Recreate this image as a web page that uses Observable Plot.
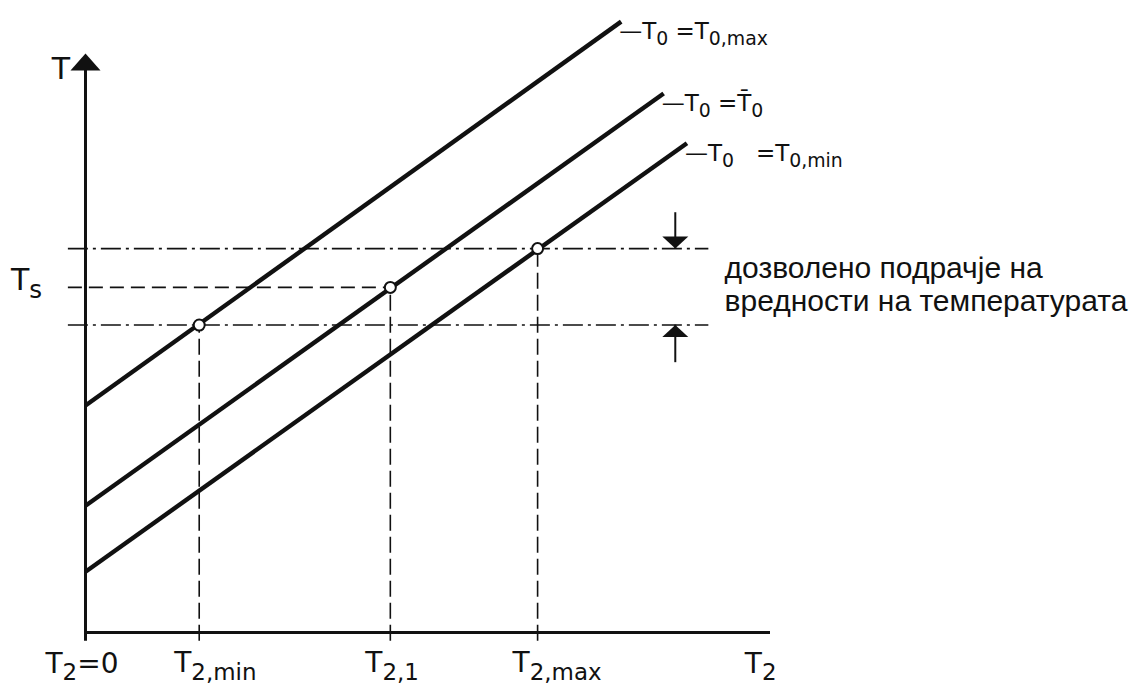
<!DOCTYPE html>
<html><head><meta charset="utf-8">
<script src="https://cdn.jsdelivr.net/npm/d3@7"></script>
<script src="https://cdn.jsdelivr.net/npm/@observablehq/plot@0.6"></script>
<style>html,body{margin:0;padding:0;background:#fff;overflow:hidden} svg{display:block}</style>
</head><body><div id="chart"></div>
<script>
// ---- data (schematic units: T2 on x 0..100, T on y) ----
const seriesName  = ["T0,max", "T0,mean", "T0,min"];
const seriesLabel = ["—T_{0} =T_{0,max}", "—T_{0} =T\u0304_{0}", "—T_{0}\u00A0\u00A0\u00A0=T_{0,min}"];
const seriesT2    = [[0, 78.2], [0, 84.4], [0, 87.8]];
const seriesT     = [[39.2, 105.5], [21.9, 93.1], [10.5, 84.5]];

const operatingT2 = [16.6, 44.5, 66.0];          // T2,min  T2,1  T2,max
const operatingT  = [53.1, 59.6, 66.3];          // lower limit, Ts, upper limit
const xTickLabel  = ["T_{2,min}", "T_{2,1}", "T_{2,max}"];
const originLabel = ["T_{2}=0"];
const xAxisLabel  = ["T_{2}"];
const yLabelText  = ["T", "T_{s}"];
const yLabelT2    = [-3.6, -8.6];
const yLabelT     = [95.6, 59.2];
const bandText    = ["дозволено подрачје на\nвредности на температурата"];
const bandArrowFrom = [72.5, 46.6];              // tails of the two range arrows

// extents
const xDomain = [0, 100], yDomain = [0, 105.7];
const refStart = -2.5, refEnd = 91, arrowT2 = 86.1, tickBottom = -1.5, yAxisTop = 100, yAxisShaftTop = 97.3;
const bandTextT2 = 93.3, bandTextT = 60.2;

// ---- tables ----
const lineRows = seriesName.flatMap((name, i) => seriesT2[i].map((t2, j) => ({name, t2, t: seriesT[i][j]})));
const endRows = seriesName.map((name, i) => ({name, label: seriesLabel[i], t2: seriesT2[i][1], t: seriesT[i][1]}));
const points = operatingT2.map((t2, i) => ({t2, t: operatingT[i], label: xTickLabel[i]}));
const limits = [operatingT[0], operatingT[2]];
const Ts = operatingT[1];
const tickMap = new Map(points.map(p => [p.t2, p.label]));
const yLabels = yLabelText.map((text, i) => ({text, t2: yLabelT2[i], t: yLabelT[i]}));
const arrows = [{t: operatingT[2], from: bandArrowFrom[0], dir: "down"}, {t: operatingT[0], from: bandArrowFrom[1], dir: "up"}];

function head(halfW, len, dir) {
  return {draw(ctx) { ctx.moveTo(0, 0); ctx.lineTo(-halfW, dir * len); ctx.lineTo(halfW, dir * len); ctx.closePath(); }};
}
const INK = "#111";
const MATH = "DejaVu Sans";
const SANS = "Liberation Sans";

const plot = Plot.plot({
  width: 1139, height: 687,
  marginLeft: 85, marginRight: 369, marginTop: 20, marginBottom: 55,
  x: {domain: xDomain},
  y: {domain: yDomain, axis: null},
  style: {background: "#fff", color: INK},
  marks: [
    Plot.ruleY(limits, {y: d => d, x1: refStart, x2: refEnd, stroke: INK, strokeWidth: 1.6, strokeDasharray: "20,5,3,5"}),
    Plot.ruleY([Ts], {y: d => d, x1: refStart, x2: operatingT2[1], stroke: INK, strokeWidth: 1.6, strokeDasharray: "14,7"}),
    Plot.ruleX(points, {x: "t2", y1: tickBottom, y2: "t", stroke: INK, strokeWidth: 1.6, strokeDasharray: "16,6"}),
    Plot.line(lineRows, {x: "t2", y: "t", z: "name", stroke: INK, strokeWidth: 4.4, strokeLinecap: "butt"}),
    Plot.ruleY([0], {y: d => d, x1: xDomain[0], x2: xDomain[1], stroke: INK, strokeWidth: 3}),
    Plot.ruleX([0], {x: d => d, y1: tickBottom, y2: yAxisShaftTop, stroke: INK, strokeWidth: 3}),
    Plot.dot([0], {x: d => d, y: () => yAxisTop, symbol: head(15, 17, 1), fill: INK, stroke: "none"}),
    Plot.ruleX(arrows, {x: () => arrowT2, y1: "from", y2: "t", stroke: INK, strokeWidth: 2}),
    Plot.dot(arrows.filter(a => a.dir === "down"), {x: () => arrowT2, y: "t", symbol: head(13, 12, -1), fill: INK, stroke: "none"}),
    Plot.dot(arrows.filter(a => a.dir === "up"), {x: () => arrowT2, y: "t", symbol: head(13, 12, 1), fill: INK, stroke: "none"}),
    Plot.dot(points, {x: "t2", y: "t", r: 5.5, fill: "#fff", stroke: INK, strokeWidth: 2}),
    Plot.axisX({ticks: operatingT2, tickFormat: d => tickMap.get(d), tickSize: 0, tickPadding: 20, label: null,
      textAnchor: "start", dx: -25, fontSize: 28, fontFamily: MATH, fill: INK}),
    Plot.text(originLabel, {x: () => xDomain[0], y: () => 0, text: d => d, textAnchor: "start", lineAnchor: "bottom", dx: -40, dy: 40, fontSize: 28, fontFamily: MATH, fill: INK}),
    Plot.text(xAxisLabel, {x: () => xDomain[1], y: () => 0, text: d => d, textAnchor: "end", lineAnchor: "bottom", dx: 6, dy: 40, fontSize: 28, fontFamily: MATH, fill: INK}),
    Plot.text(yLabels, {x: "t2", y: "t", text: "text", textAnchor: "middle", lineAnchor: "bottom", fontSize: 30, fontFamily: MATH, fill: INK}),
    Plot.text(endRows, {x: "t2", y: "t", text: "label", textAnchor: "start", lineAnchor: "middle", dx: -2, dy: 10, fontSize: 23, fontFamily: MATH, fill: INK}),
    Plot.text(bandText, {x: () => bandTextT2, y: () => bandTextT, text: d => d, textAnchor: "start", lineAnchor: "middle", lineHeight: 1.1, fontSize: 30, fontFamily: SANS, fill: INK})
  ]
});

// turn T_{...} markup into real subscripts
const NS = "http://www.w3.org/2000/svg";
const SUB = 0.82;
plot.querySelectorAll("text").forEach(el => {
  const s = el.textContent;
  if (!s.includes("_{") || el.querySelector("tspan")) return;
  el.textContent = "";
  let shifted = false;
  for (const p of s.split(/(_\{[^}]*\})/)) {
    if (!p) continue;
    const ts = document.createElementNS(NS, "tspan");
    if (p.startsWith("_{")) {
      ts.textContent = p.slice(2, -1);
      ts.setAttribute("font-size", (SUB * 100) + "%");
      ts.setAttribute("dy", "0.34em");
      shifted = true;
    } else {
      ts.textContent = p;
      if (shifted) { ts.setAttribute("dy", (-0.34 * SUB).toFixed(3) + "em"); shifted = false; }
    }
    el.appendChild(ts);
  }
});
document.getElementById("chart").appendChild(plot);
</script></body></html>
